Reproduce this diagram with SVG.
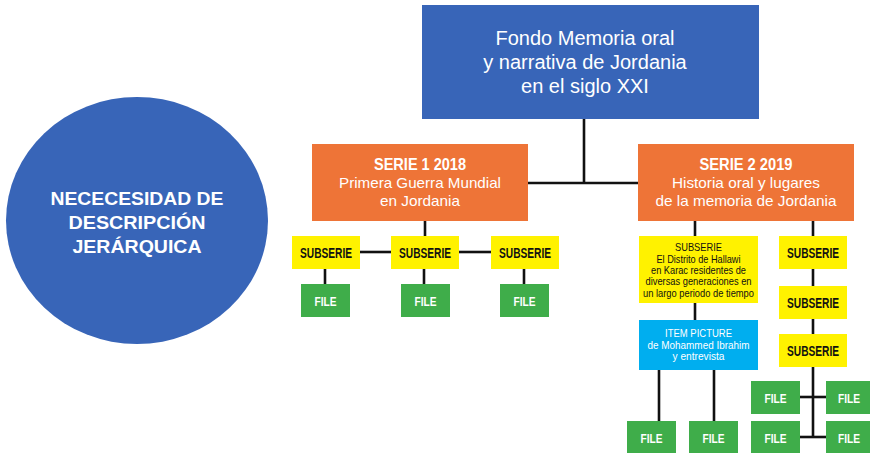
<svg xmlns="http://www.w3.org/2000/svg" width="870" height="453" viewBox="0 0 870 453">
<style>
text{font-family:"Liberation Sans",Arial,sans-serif;text-anchor:middle}
.blue{fill:#3865B8}
.orange{fill:#EE7437}
.yellow{fill:#FFF200}
.green{fill:#3FAD4A}
.cyan{fill:#00AEEF}
.w{fill:#ffffff}
.k{fill:#111111}
.b{font-weight:bold}
.conn line{stroke:#111111;stroke-width:2.6}
.sub{font-size:14px;font-weight:bold;fill:#111111}
.file{font-size:13.5px;font-weight:bold;fill:#ffffff}
.reg{font-size:15px}
</style>
<rect width="870" height="453" fill="#ffffff"/>
<g id="connectors" class="conn">
<line x1="584" y1="119" x2="584" y2="183"/>
<line x1="528" y1="183" x2="638" y2="183"/>
<line x1="425" y1="221" x2="425" y2="236"/>
<line x1="360" y1="252" x2="391" y2="252"/>
<line x1="459" y1="252" x2="491" y2="252"/>
<line x1="325" y1="269" x2="325" y2="284"/>
<line x1="424" y1="269" x2="424" y2="284"/>
<line x1="524" y1="269" x2="524" y2="284"/>
<line x1="695" y1="221" x2="695" y2="236"/>
<line x1="695" y1="303" x2="695" y2="320"/>
<line x1="659" y1="370" x2="659" y2="421"/>
<line x1="714" y1="370" x2="714" y2="421"/>
<line x1="813" y1="221" x2="813" y2="236"/>
<line x1="813" y1="269" x2="813" y2="286"/>
<line x1="813" y1="319" x2="813" y2="334"/>
<line x1="813" y1="367" x2="813" y2="438"/>
<line x1="800" y1="397" x2="826" y2="397"/>
<line x1="800" y1="437" x2="826" y2="437"/>
</g>
<g id="need">
<ellipse class="blue" cx="137" cy="220.5" rx="131" ry="123.5"/>
<text class="w b" x="137" y="205" font-size="19" textLength="173" lengthAdjust="spacingAndGlyphs">NECECESIDAD DE</text>
<text class="w b" x="137" y="229" font-size="19" textLength="137" lengthAdjust="spacingAndGlyphs">DESCRIPCIÓN</text>
<text class="w b" x="137" y="253" font-size="19" textLength="129" lengthAdjust="spacingAndGlyphs">JERÁRQUICA</text>
</g>
<g id="fondo">
<rect class="blue" x="422" y="5" width="337" height="114"/>
<text class="w" x="585" y="45" font-size="20">Fondo Memoria oral</text>
<text class="w" x="585" y="69" font-size="20">y narrativa de Jordania</text>
<text class="w" x="585" y="93" font-size="20">en el siglo XXI</text>
</g>
<g id="serie1">
<rect class="orange" x="312" y="144" width="216" height="77"/>
<text class="w b" x="420" y="170" font-size="16.5" textLength="92" lengthAdjust="spacingAndGlyphs">SERIE 1 2018</text>
<text class="w reg" x="420" y="188" textLength="162" lengthAdjust="spacingAndGlyphs">Primera Guerra Mundial</text>
<text class="w reg" x="420" y="206" textLength="80" lengthAdjust="spacingAndGlyphs">en Jordania</text>
</g>
<g id="serie2">
<rect class="orange" x="638" y="144" width="216" height="77"/>
<text class="w b" x="746" y="170" font-size="16.5" textLength="93" lengthAdjust="spacingAndGlyphs">SERIE 2 2019</text>
<text class="w reg" x="746" y="188" textLength="148" lengthAdjust="spacingAndGlyphs">Historia oral y lugares</text>
<text class="w reg" x="746" y="206" textLength="181" lengthAdjust="spacingAndGlyphs">de la memoria de Jordania</text>
</g>
<g id="subserie1a">
<rect class="yellow" x="292" y="236" width="68" height="33"/>
<text class="sub" x="326" y="258" textLength="52" lengthAdjust="spacingAndGlyphs">SUBSERIE</text>
</g>
<g id="subserie1b">
<rect class="yellow" x="391" y="236" width="68" height="33"/>
<text class="sub" x="425" y="258" textLength="52" lengthAdjust="spacingAndGlyphs">SUBSERIE</text>
</g>
<g id="subserie1c">
<rect class="yellow" x="491" y="236" width="68" height="33"/>
<text class="sub" x="525" y="258" textLength="52" lengthAdjust="spacingAndGlyphs">SUBSERIE</text>
</g>
<g id="file1a">
<rect class="green" x="301" y="284" width="49" height="33"/>
<text class="file" x="325.5" y="306" textLength="22" lengthAdjust="spacingAndGlyphs">FILE</text>
</g>
<g id="file1b">
<rect class="green" x="401" y="284" width="49" height="33"/>
<text class="file" x="425.5" y="306" textLength="22" lengthAdjust="spacingAndGlyphs">FILE</text>
</g>
<g id="file1c">
<rect class="green" x="500" y="284" width="49" height="33"/>
<text class="file" x="524.5" y="306" textLength="22" lengthAdjust="spacingAndGlyphs">FILE</text>
</g>
<g id="subserie2a">
<rect class="yellow" x="639" y="236" width="119" height="67"/>
<text class="k" x="698.5" y="251" font-size="11" textLength="47" lengthAdjust="spacingAndGlyphs">SUBSERIE</text>
<text class="k" x="698.5" y="262.5" font-size="11" textLength="84" lengthAdjust="spacingAndGlyphs">El Distrito de Hallawi</text>
<text class="k" x="698.5" y="274" font-size="11" textLength="95" lengthAdjust="spacingAndGlyphs">en Karac residentes de</text>
<text class="k" x="698.5" y="285" font-size="11" textLength="106" lengthAdjust="spacingAndGlyphs">diversas generaciones en</text>
<text class="k" x="698.5" y="296.5" font-size="11" textLength="111" lengthAdjust="spacingAndGlyphs">un largo periodo de tiempo</text>
</g>
<g id="item">
<rect class="cyan" x="639" y="320" width="119" height="50"/>
<text class="w" x="698.5" y="337" font-size="11" textLength="67" lengthAdjust="spacingAndGlyphs">ITEM PICTURE</text>
<text class="w" x="698.5" y="348.5" font-size="11" textLength="102" lengthAdjust="spacingAndGlyphs">de Mohammed Ibrahim</text>
<text class="w" x="698.5" y="359.5" font-size="11" textLength="52" lengthAdjust="spacingAndGlyphs">y entrevista</text>
</g>
<g id="file2a">
<rect class="green" x="627" y="421" width="49" height="32"/>
<text class="file" x="651.5" y="442.5" textLength="22" lengthAdjust="spacingAndGlyphs">FILE</text>
</g>
<g id="file2b">
<rect class="green" x="689" y="421" width="49" height="32"/>
<text class="file" x="713.5" y="442.5" textLength="22" lengthAdjust="spacingAndGlyphs">FILE</text>
</g>
<g id="subserie2b">
<rect class="yellow" x="779" y="236" width="68" height="33"/>
<text class="sub" x="813" y="258" textLength="52" lengthAdjust="spacingAndGlyphs">SUBSERIE</text>
</g>
<g id="subserie2c">
<rect class="yellow" x="779" y="286" width="68" height="33"/>
<text class="sub" x="813" y="308" textLength="52" lengthAdjust="spacingAndGlyphs">SUBSERIE</text>
</g>
<g id="subserie2d">
<rect class="yellow" x="779" y="334" width="68" height="33"/>
<text class="sub" x="813" y="356" textLength="52" lengthAdjust="spacingAndGlyphs">SUBSERIE</text>
</g>
<g id="file3a">
<rect class="green" x="751" y="381" width="49" height="33"/>
<text class="file" x="775.5" y="403" textLength="22" lengthAdjust="spacingAndGlyphs">FILE</text>
</g>
<g id="file3b">
<rect class="green" x="826" y="381" width="44" height="33"/>
<text class="file" x="849" y="403" textLength="22" lengthAdjust="spacingAndGlyphs">FILE</text>
</g>
<g id="file3c">
<rect class="green" x="751" y="421" width="49" height="32"/>
<text class="file" x="775.5" y="442.5" textLength="22" lengthAdjust="spacingAndGlyphs">FILE</text>
</g>
<g id="file3d">
<rect class="green" x="826" y="421" width="44" height="32"/>
<text class="file" x="849" y="442.5" textLength="22" lengthAdjust="spacingAndGlyphs">FILE</text>
</g>
</svg>
